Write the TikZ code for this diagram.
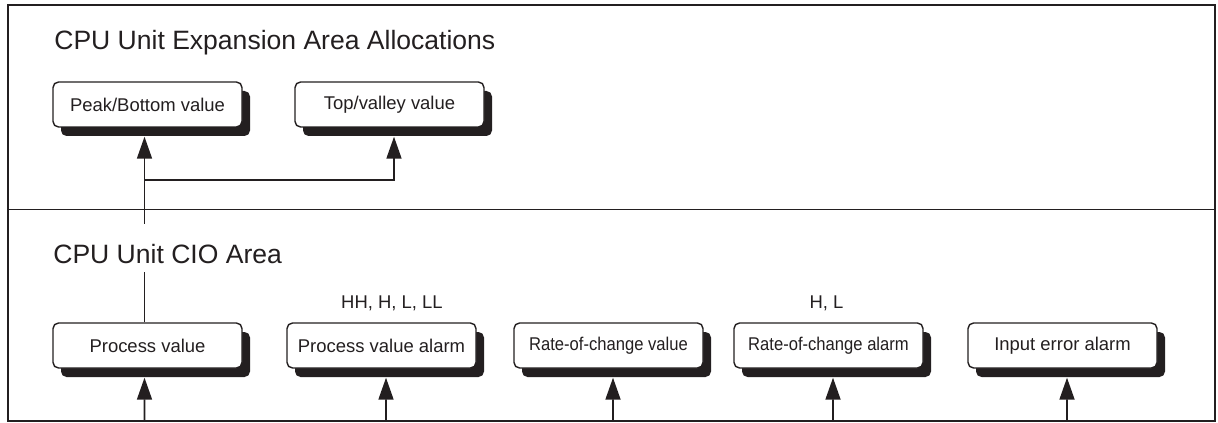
\documentclass[tikz,border=0pt]{standalone}
\usepackage{fontspec}
\setmainfont{Liberation Sans}
\newfontfamily\narrowsf{Liberation Sans}[FakeStretch=0.9]
\usetikzlibrary{arrows.meta, positioning, calc, shadows}
\definecolor{ink}{HTML}{231F20}

\begin{document}
\begin{tikzpicture}[
  >={Triangle[length=4.4mm, width=3mm]},
  area/.style={draw=ink, line width=1pt, minimum width=241.4mm, inner sep=0pt},
  title/.style={font=\fontsize{15.1}{18}\selectfont, text=ink, anchor=base west, inner sep=0pt},
  reg/.style={draw=ink, line width=0.8pt, fill=white, rounded corners=1.1mm,
    minimum width=37.8mm, minimum height=9mm, inner sep=0pt,
    font=\fontsize{10.5}{12}\selectfont, text=ink,
    drop shadow={shadow xshift=1.6mm, shadow yshift=-1.8mm, fill=ink, opacity=1}},
  tag/.style={font=\fontsize{10.5}{12}\selectfont, text=ink, anchor=base},
  flow/.style={->, line width=1pt, ink},
]
\useasboundingbox (0,0) rectangle (24.36,-8.46);

% === Areas ===
\node[area, minimum height=40.9mm] (exparea) at (12.23,-2.145) {};
\node[area, minimum height=42.3mm] (cioarea) at (12.23,-6.305) {};

% Title of the upper area
\node[title] (exptitle) at (1.08,-1.0) {CPU Unit Expansion Area Allocations};

% === Expansion area registers ===
\node[reg] (peak)   at (2.95,-2.09) {Peak/Bottom value};
\node[reg] (topval) at (7.79,-2.09) {Top/valley value};

% === CIO area registers ===
\node[reg] (pv)   at (2.95,-6.91)  {Process value};
\node[reg] (pva)  at (7.63,-6.91)  {Process value alarm};
\node[reg] (rocv) at (12.17,-6.91) {\narrowsf Rate-of-change value};
\node[reg] (roca) at (16.57,-6.91) {\narrowsf Rate-of-change alarm};
\node[reg] (iea)  at (21.25,-6.91) {Input error alarm};

% Alarm levels
\node[tag] (pvalevels)  at (7.84,-6.16)  {HH, H, L, LL};
\node[tag] (rocalevels) at (16.53,-6.16) {H, L};

% === Process value -> Peak/Bottom and Top/valley ===
\coordinate (split) at ($(peak.south)+(-0.06,-1.04)$);
\draw[flow] ([xshift=-0.6mm]pv.north) -- ([xshift=-0.6mm, yshift=-1.8mm]peak.south);
\draw[flow] (split) -| ([xshift=0.9mm, yshift=-1.8mm]topval.south);

% Title of the lower area (breaks the line)
\node[title, fill=white, text height=7.8mm, text depth=1.8mm] (ciotitle) at (1.06,-5.26) {CPU Unit CIO Area};

% === Inputs from below ===
\draw[flow] ($(pv.south |- cioarea.south)+(-0.06,0)$) -- ([xshift=-0.6mm, yshift=-1.8mm]pv.south);
\foreach \reg in {pva, rocv, roca, iea}
  \draw[flow] ($(\reg.south |- cioarea.south)+(0.09,0)$) -- ([xshift=0.9mm, yshift=-1.8mm]\reg.south);

\end{tikzpicture}
\end{document}
